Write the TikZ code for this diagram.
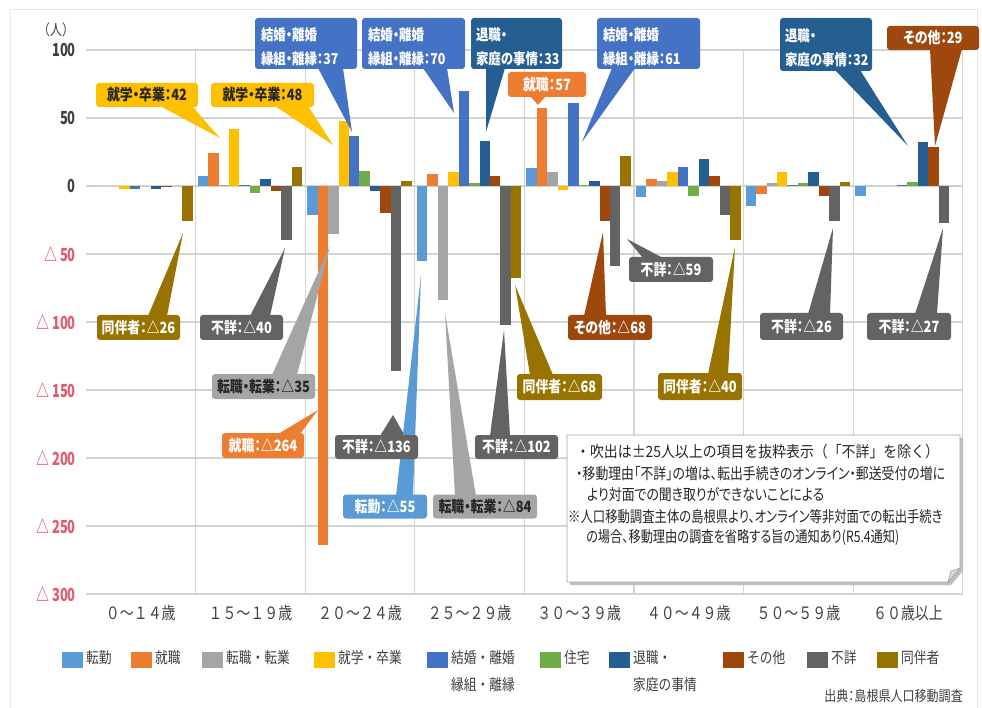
\documentclass[tikz,border=0pt]{standalone}
\usepackage{fontspec}
\newfontfamily\jpc[RawFeature=+palt,FakeStretch=0.83]{Noto Sans CJK JP}
\newfontfamily\jpn[FakeStretch=0.83]{Noto Sans CJK JP}
\newfontfamily\jpl[FakeStretch=0.82]{Noto Sans CJK JP}
\newfontfamily\jpa[FakeStretch=0.72]{Noto Sans CJK JP}
\usetikzlibrary{calc}
\definecolor{s0}{HTML}{5B9BD5}
\definecolor{s1}{HTML}{ED7D31}
\definecolor{s2}{HTML}{A5A5A5}
\definecolor{s3}{HTML}{FFC000}
\definecolor{s4}{HTML}{4472C4}
\definecolor{s5}{HTML}{70AD47}
\definecolor{s6}{HTML}{255E91}
\definecolor{s7}{HTML}{9E480E}
\definecolor{s8}{HTML}{636363}
\definecolor{s9}{HTML}{997300}
\definecolor{gridc}{HTML}{D4D4D4}
\definecolor{negred}{HTML}{E35A6E}
\definecolor{axtext}{HTML}{404040}
\definecolor{darktext}{HTML}{262626}
\pgfdeclarelayer{wedges}\pgfdeclarelayer{boxes}
\pgfsetlayers{main,wedges,boxes}
\tikzset{
  callout/.style={rounded corners=3, inner sep=0, minimum height=24, text=white,
    font=\jpc\bfseries\fontsize{15.5}{23}\selectfont},
  twoline/.style={callout, align=left, minimum height=51, text height=20,
    font=\jpc\bfseries\fontsize{15}{24}\selectfont},
  ylab/.style={anchor=east, inner sep=0, font=\jpa\bfseries\fontsize{18}{20}\selectfont},
  catlab/.style={inner sep=0, text=axtext, font=\jpl\fontsize{17}{20}\selectfont},
  legsw/.style={inner sep=0, minimum width=21, minimum height=16, anchor=west},
  legtx/.style={inner sep=0, anchor=west, text=axtext, align=left, font=\jpl\fontsize{15.5}{27}\selectfont},
  notetx/.style={inner sep=0, anchor=west, text=darktext, font=\jpc\fontsize{15.5}{20}\selectfont}
}
\begin{document}
\begin{tikzpicture}[x=1pt,y=-1pt]
\useasboundingbox (0,0) rectangle (982,708);
\fill[white] (0,0) rectangle (982,708);
\draw[gray!18, line width=1] (10,712) -- (10,10) -- (977,10) -- (977,712);
% grid
\foreach \k in {0,...,8} \draw[gridc, line width=1.3] (86,{50+68*\k}) -- (963,{50+68*\k});
\foreach \c in {1,...,8} \draw[gridc, line width=1.3] ({86+109.6*\c},50) -- ({86+109.6*\c},594);
% axis labels
\node[ylab, text=axtext] (y100) at (76,50) {100};
\node[ylab, text=axtext] (y50) at (76,118) {50};
\node[ylab, text=axtext] (y0) at (76,186) {0};
\foreach \k/\t in {1/50,2/100,3/150,4/200,5/250,6/300}
  \node[ylab, text=negred] (yn\k) at (76,{186+68*\k}) {△ \t};
\node[inner sep=0, text=axtext, font=\jpl\fontsize{15}{18}\selectfont] (unit) at (56,30) {（人）};
% bars
\foreach \c/\vals in {0/{0,0,0,-2,-2,0,-2,-1,0,-26},
                      1/{7,24,1,42,1,-5,5,-4,-40,14},
                      2/{-21,-264,-35,48,37,11,-4,-20,-136,4},
                      3/{-55,9,-84,10,70,2,33,7,-102,-68},
                      4/{13,57,10,-3,61,1,4,-26,-59,22},
                      5/{-8,5,4,10,14,-7,20,7,-21,-40},
                      6/{-15,-6,2,10,1,2,10,-7,-26,3},
                      7/{-7,0,0,0,1,3,32,29,-27,0}}{
  \foreach \v [count=\i from 0] in \vals {
    \pgfmathsetmacro\xa{86+109.6*\c+2+10.45*\i}
    \fill[s\i] (\xa,186) rectangle ({\xa+10.45},{186-1.36*\v});
  }
}
% category labels
\foreach \c/\t in {0/０～１４歳,1/１５～１９歳,2/２０～２４歳,3/２５～２９歳,4/３０～３９歳,5/４０～４９歳,6/５０～５９歳,7/６０歳以上}
  \node[catlab] (cat\c) at ({86+109.6*(\c+0.5)},613) {\t};
% tips
\foreach \n/\x/\y in {p1/220/138,p2/333/145,p3/352/132,p4/454/113,p5/486/132,p6/538/105,p7/582/142,p8/908/146,p9/935/146,
  n1/183/233,n2/285/248,n3/330/246,n4/318/410,n5/393/415,n6/421/275,n7/445/313,n8/504/330,n9/515/285,n10/603/232,n11/627/239,n12/735/247,n13/833/228,n14/943/228}
  \coordinate (t\n) at (\x,\y);
% callout boxes
\begin{pgfonlayer}{boxes}
\node[callout, fill=s3, text=darktext, minimum width=102] (p1) at (147,95) {就学・卒業：42};
\node[callout, fill=s3, text=darktext, minimum width=103] (p2) at (262.5,95) {就学・卒業：48};
\node[twoline, fill=s4, minimum width=102, text width=90] (p3) at (306,43.5) {結婚・離婚\\縁組・離縁：37};
\node[twoline, fill=s4, minimum width=103, text width=91] (p4) at (413.5,43.5) {結婚・離婚\\縁組・離縁：70};
\node[twoline, fill=s6, minimum width=91, text width=81] (p5) at (516.5,43.5) {退職・\\家庭の事情：33};
\node[callout, fill=s1, minimum width=78, minimum height=25] (p6) at (547,84.5) {就職：57};
\node[twoline, fill=s4, minimum width=103, text width=91] (p7) at (648.5,43.5) {結婚・離婚\\縁組・離縁：61};
\node[twoline, fill=s6, minimum width=92, text width=82, minimum height=53] (p8) at (826,44.5) {退職・\\家庭の事情：32};
\node[callout, fill=s7, minimum width=92] (p9) at (933,38) {その他：29};
\node[callout, fill=s9, minimum width=83, minimum height=25] (n1) at (138.5,327.5) {同伴者：△26};
\node[callout, fill=s8, minimum width=83, minimum height=25] (n2) at (241.5,327.5) {不詳：△40};
\node[callout, fill=s2, text=darktext, minimum width=103, minimum height=25] (n3) at (263.5,386.5) {転職・転業：△35};
\node[callout, fill=s1, minimum width=82, minimum height=25] (n4) at (263,445.5) {就職：△264};
\node[callout, fill=s8, minimum width=83] (n5) at (376.5,447) {不詳：△136};
\node[callout, fill=s0, minimum width=84] (n6) at (385,506.5) {転勤：△55};
\node[callout, fill=s2, text=darktext, minimum width=104] (n7) at (485,506.5) {転職・転業：△84};
\node[callout, fill=s8, minimum width=83] (n8) at (516.5,447) {不詳：△102};
\node[callout, fill=s9, minimum width=85, minimum height=26] (n9) at (559.5,387) {同伴者：△68};
\node[callout, fill=s7, minimum width=84, minimum height=25] (n10) at (610,327.5) {その他：△68};
\node[callout, fill=s8, minimum width=84, minimum height=25] (n11) at (671,269.5) {不詳：△59};
\node[callout, fill=s9, minimum width=84, minimum height=27] (n12) at (700,386.5) {同伴者：△40};
\node[callout, fill=s8, minimum width=83, minimum height=27] (n13) at (801.5,326.5) {不詳：△26};
\node[callout, fill=s8, minimum width=84, minimum height=27] (n14) at (909,326.5) {不詳：△27};
\end{pgfonlayer}
% wedges
\begin{pgfonlayer}{wedges}
\foreach \n/\c/\ax/\ay/\bx/\by in {p1/s3/160/106/192/106, p2/s3/275/106/308/106, p3/s4/318/68/343/68,
  p4/s4/423/68/447/68, p5/s6/486/68/505/68, p6/s1/530/96/546/96, p7/s4/612/68/635/68,
  p8/s6/835/70/860/70, p9/s7/930/49/962/49,
  n1/s9/148/316/167/316, n2/s8/250/316/270/316, n3/s2/272/375/297/375, n4/s1/278/434/300/434,
  n5/s8/380/436/405/436, n6/s0/396/496/413/496, n7/s2/455/496/476/496, n8/s8/490/436/510/436,
  n9/s9/530/375/553/375, n10/s7/584/316/606/316, n11/s8/643/258/663/258, n12/s9/708/374/728/374,
  n13/s8/808/314/830/314, n14/s8/915/314/937/314}
  \fill[\c] (\ax,\ay) -- (t\n) -- (\bx,\by) -- cycle;
\end{pgfonlayer}
% note box
\begin{pgfonlayer}{boxes}
\fill[gray!50] (570,438) -- (963,438) -- (963,571) -- (951,585) -- (570,585) -- cycle;
\filldraw[fill=white, draw=gray!70, line width=0.8] (567,435) -- (960,435) -- (960,568) -- (948,582) -- (567,582) -- cycle;
\filldraw[fill=gray!30, draw=gray!70, line width=0.6] (960,568) -- (951,571) -- (948,582) -- cycle;
\node[notetx, font=\jpn\fontsize{15.5}{20}\selectfont] (nt1) at (576,452) {\scalebox{1.08}[1]{・吹出は±25人以上の項目を抜粋表示（「不詳」を除く）}};
\node[notetx] (nt2) at (576,473.5) {・移動理由「不詳」の増は、転出手続きのオンライン・郵送受付の増に};
\node[notetx] (nt3) at (587,495) {より対面での聞き取りができないことによる};
\node[notetx] (nt4) at (568,516.5) {\scalebox{0.96}[1]{※人口移動調査主体の島根県より、オンライン等非対面での転出手続き}};
\node[notetx] (nt5) at (586,537.5) {\scalebox{0.95}[1]{の場合、移動理由の調査を省略する旨の通知あり(R5.4通知)}};
\end{pgfonlayer}
% legend
\foreach \k/\x/\t in {0/62/転勤,1/131/就職,2/202/転職・転業,3/314/就学・卒業,4/427/{結婚・離婚\\縁組・離縁},
  5/540/住宅,6/609/{退職・\\家庭の事情},7/723/その他,8/807/不詳,9/877/同伴者}{
  \node[legsw, fill=s\k] (lg\k) at (\x,660) {};
  \node[legtx, anchor=north west] (lt\k) at ({\x+24},650) {\t};
}
\node[inner sep=0, anchor=east, text=axtext, font=\jpc\fontsize{14.5}{18}\selectfont] (src) at (963,696) {出典：島根県人口移動調査};
\end{tikzpicture}
\end{document}
